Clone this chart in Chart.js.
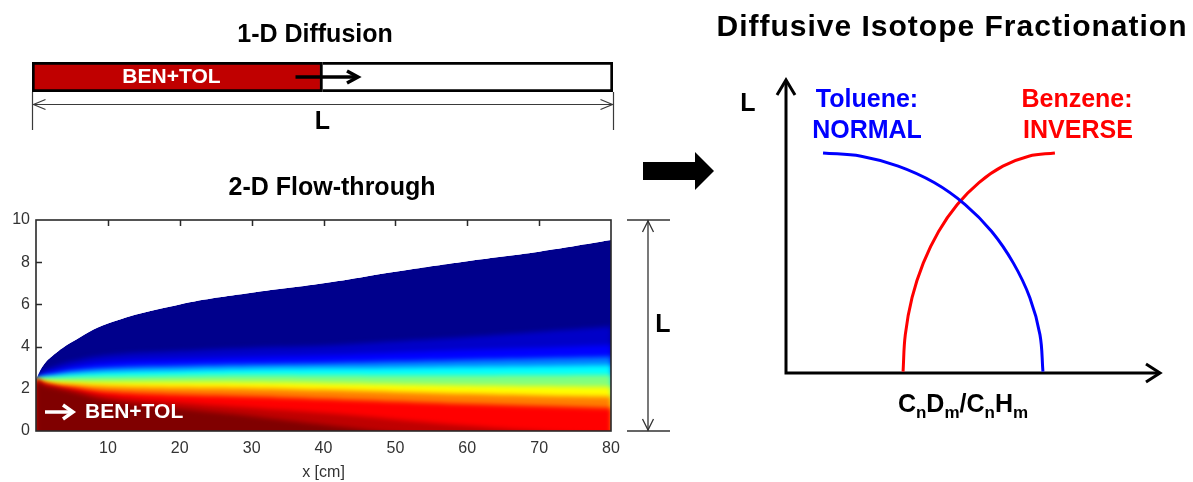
<!DOCTYPE html>
<html>
<head>
<meta charset="utf-8">
<title>Diffusive isotope fractionation</title>
<script src="https://cdn.jsdelivr.net/npm/chart.js@4.4.1/dist/chart.umd.min.js"></script>
<style>
  html, body { margin: 0; padding: 0; background: #fff; }
  body { width: 1193px; height: 482px; position: relative; overflow: hidden; }
  canvas { position: absolute; }
  #diffusion { left: 0; top: 0; }
  #flow { left: 0; top: 160px; }
  #fractionation { left: 620px; top: 0; }
</style>
</head>
<body>
<canvas id="diffusion" width="640" height="150"></canvas>
<canvas id="flow" width="700" height="322"></canvas>
<canvas id="fractionation" width="573" height="482"></canvas>
<script>
// ---- 1-D diffusion column (in % of L) ----
const columnLength = 100;
const frontPosition = 50;

// ---- 2-D flow-through: x [cm] and heights [cm] of the colour contours ----
const xCm = [0, 1, 2.5, 5, 10, 20, 30, 40, 50, 60, 70, 80];
const flowXTicks = [0, 10, 20, 30, 40, 50, 60, 70, 80];
const flowYTicks = [0, 2, 4, 6, 8, 10];

const plumeEdge      = [2.45, 3.1, 3.62, 4.22, 5.1, 6.0, 6.55, 7.0, 7.55, 8.05, 8.5, 9.05];
const contourMidBlue = [2.45, 2.85, 3.05, 3.3, 3.6, 3.8, 3.95, 4.05, 4.25, 4.45, 4.7, 4.95];
const contourBlue    = [2.45, 2.7, 2.85, 3.05, 3.28, 3.42, 3.52, 3.6, 3.72, 3.85, 3.95, 4.08];
const contourSky     = [2.45, 2.6, 2.7, 2.85, 3.0, 3.1, 3.17, 3.22, 3.3, 3.38, 3.45, 3.52];
const contourCyan    = [2.45, 2.55, 2.6, 2.7, 2.81, 2.88, 2.95, 2.98, 3.0, 3.04, 3.08, 3.13];
const contourGreen   = [2.45, 2.48, 2.52, 2.55, 2.58, 2.62, 2.65, 2.64, 2.63, 2.63, 2.64, 2.65];
const contourYellow  = [2.45, 2.4, 2.37, 2.35, 2.34, 2.33, 2.32, 2.28, 2.22, 2.17, 2.13, 2.1];
const contourOrange  = [2.45, 2.33, 2.25, 2.2, 2.12, 2.06, 2.03, 1.95, 1.85, 1.76, 1.68, 1.62];
const contourRed     = [2.45, 2.27, 2.15, 2.05, 1.86, 1.72, 1.64, 1.52, 1.4, 1.28, 1.18, 1.09];
const contourDeepRed = [2.45, 2.22, 2.1, 1.95, 1.65, 1.35, 1.1, 0.85, 0.55, 0.25, 0.0, -0.2];
const contourDarkRed = [2.45, 2.18, 2.05, 1.85, 1.45, 1.05, 0.7, 0.3, -0.1, -0.5, -0.8, -1.0];

// ---- schematic: fractionation vs L (arbitrary units 0-100) ----
const tolueneRatio = [9.9, 20.1, 30.0, 39.6, 47.9, 55.0, 60.8, 65.2, 67.9, 68.7];
const tolueneL     = [75.1, 74.0, 70.6, 65.0, 57.5, 48.3, 37.5, 25.7, 13.1, 0.5];
const benzeneRatio = [31.3, 31.9, 33.7, 36.7, 40.8, 45.8, 51.6, 58.0, 64.9, 71.9];
const benzeneL     = [0.5, 13.1, 25.7, 37.5, 48.3, 57.5, 65.0, 70.6, 74.0, 75.1];

const FONT = "'Liberation Sans', Arial, Helvetica, sans-serif";

// jet-like colours, outer plume to source
const layerLines = [plumeEdge, contourMidBlue, contourBlue, contourSky, contourCyan, contourGreen,
                    contourYellow, contourOrange, contourRed, contourDeepRed, contourDarkRed];
const layerColors = ['#00008c', '#0000c8', '#0000ff', '#0080ff', '#00ffff', '#80ff80',
                     '#ffff00', '#ff8000', '#ff0000', '#bf0000', '#800000'];

function drawLabel(ctx, str, x, y, font, color, align = 'center') {
    ctx.save();
    ctx.font = font;
    ctx.fillStyle = color;
    ctx.textAlign = align;
    ctx.textBaseline = 'middle';
    ctx.fillText(str, x, y);
    ctx.restore();
}

// open arrow head, dir is where the tip points
function arrowHead(ctx, tx, ty, dir, len, half) {
    const v = { right: [-1, 0], left: [1, 0], up: [0, 1], down: [0, -1] }[dir];
    ctx.beginPath();
    ctx.moveTo(tx + v[0] * len + v[1] * half, ty + v[1] * len + v[0] * half);
    ctx.lineTo(tx, ty);
    ctx.lineTo(tx + v[0] * len - v[1] * half, ty + v[1] * len - v[0] * half);
    ctx.stroke();
}

// 1-D Diffusion
const diffusionPlugin = {
    id: 'diffusionDecor',
    afterDatasetsDraw(chart) {
        const { ctx, chartArea: a, scales: { x } } = chart;
        const x0 = x.getPixelForValue(0);
        const xL = x.getPixelForValue(columnLength);
        const xf = x.getPixelForValue(frontPosition);
        const yMid = (a.top + a.bottom) / 2;

        drawLabel(ctx, 'BEN+TOL', x.getPixelForValue(frontPosition * 0.48), yMid, 'bold 21px ' + FONT, '#fff');

        // front arrow
        ctx.save();
        ctx.strokeStyle = '#000';
        ctx.lineWidth = 3.5;
        ctx.beginPath();
        ctx.moveTo(xf - 27, yMid);
        ctx.lineTo(xf + 35, yMid);
        ctx.stroke();
        arrowHead(ctx, xf + 35.5, yMid, 'right', 11, 6);
        ctx.restore();

        // dimension L
        ctx.save();
        ctx.strokeStyle = '#3a3a3a';
        ctx.lineWidth = 1.2;
        const yd = a.bottom + 12.5;
        ctx.beginPath();
        ctx.moveTo(x0 + 0.5, yd); ctx.lineTo(xL, yd);
        ctx.moveTo(x0 + 0.5, a.bottom); ctx.lineTo(x0 + 0.5, a.bottom + 38);
        ctx.moveTo(xL + 0.5, a.bottom); ctx.lineTo(xL + 0.5, a.bottom + 38);
        ctx.stroke();
        arrowHead(ctx, x0 + 1.5, yd, 'left', 12, 5);
        arrowHead(ctx, xL - 0.5, yd, 'right', 12, 5);
        ctx.restore();

        drawLabel(ctx, 'L', (x0 + xL) / 2, 122, 'bold 25px ' + FONT, '#000');
        drawLabel(ctx, '1-D Diffusion', 315, 35, 'bold 25px ' + FONT, '#000');
    }
};

new Chart(document.getElementById('diffusion'), {
    type: 'bar',
    data: {
        labels: ['column'],
        datasets: [{
            label: 'BEN+TOL',
            data: [frontPosition],
            backgroundColor: '#c00000',
            borderColor: '#000',
            borderWidth: 3,
            borderSkipped: false
        }, {
            label: 'clean',
            data: [columnLength - frontPosition],
            backgroundColor: '#fff',
            borderColor: '#000',
            borderWidth: 3,
            borderSkipped: 'start'
        }]
    },
    options: {
        indexAxis: 'y',
        responsive: false,
        animation: false,
        layout: { padding: { left: 32, right: 27, top: 62, bottom: 58 } },
        datasets: { bar: { barPercentage: 1, categoryPercentage: 1 } },
        scales: {
            x: { stacked: true, min: 0, max: columnLength, display: false },
            y: { stacked: true, display: false }
        },
        plugins: { legend: { display: false }, tooltip: { enabled: false } }
    },
    plugins: [diffusionPlugin]
});

// 2-D Flow-through
const flowPlugin = {
    id: 'flowDecor',
    beforeDatasetsDraw(chart) {
        chart.ctx.filter = 'none';
    },
    afterDatasetDraw(chart, args) {
        // layers after the sharp plume edge are softened, the white mask on top stays sharp
        const next = args.index + 1;
        chart.ctx.filter = next < layerLines.length ? 'blur(2.5px)' : 'none';
    },
    afterDatasetsDraw(chart) {
        const { ctx, chartArea: a, scales: { x, y } } = chart;
        ctx.filter = 'none';

        // inward ticks, only where the white background shows them
        ctx.save();
        ctx.strokeStyle = '#2a2a2a';
        ctx.lineWidth = 1.5;
        ctx.beginPath();
        flowXTicks.slice(1, -1).forEach(v => {
            const px = Math.round(x.getPixelForValue(v)) + 0.5;
            ctx.moveTo(px, a.top); ctx.lineTo(px, a.top + 6);
        });
        flowYTicks.slice(1, -1).filter(v => v > plumeEdge[0]).forEach(v => {
            const py = Math.round(y.getPixelForValue(v)) + 0.5;
            ctx.moveTo(a.left, py); ctx.lineTo(a.left + 6, py);
        });
        ctx.stroke();

        ctx.strokeStyle = '#2a2a2a';
        ctx.lineWidth = 1.6;
        ctx.strokeRect(a.left, a.top, a.right - a.left, a.bottom - a.top);
        ctx.restore();

        // inflow label
        const yIn = y.getPixelForValue(0.9);
        ctx.save();
        ctx.strokeStyle = '#fff';
        ctx.lineWidth = 3.5;
        ctx.beginPath();
        ctx.moveTo(a.left + 9, yIn); ctx.lineTo(a.left + 36, yIn);
        ctx.stroke();
        arrowHead(ctx, a.left + 37, yIn, 'right', 10, 7);
        ctx.restore();
        drawLabel(ctx, 'BEN+TOL', a.left + 49, yIn, 'bold 21px ' + FONT, '#fff', 'left');

        // dimension L on the right
        const yTop = y.getPixelForValue(10);
        const yBot = y.getPixelForValue(0);
        const xv = a.right + 37;
        ctx.save();
        ctx.strokeStyle = '#333';
        ctx.lineWidth = 1.3;
        ctx.beginPath();
        ctx.moveTo(a.right + 16, yTop); ctx.lineTo(a.right + 59, yTop);
        ctx.moveTo(a.right + 16, yBot); ctx.lineTo(a.right + 59, yBot);
        ctx.moveTo(xv, yTop); ctx.lineTo(xv, yBot);
        ctx.stroke();
        arrowHead(ctx, xv, yTop + 1, 'up', 11, 5.5);
        arrowHead(ctx, xv, yBot - 1, 'down', 11, 5.5);
        ctx.restore();
        drawLabel(ctx, 'L', a.right + 52, (yTop + yBot) / 2, 'bold 25px ' + FONT, '#000');

        drawLabel(ctx, '2-D Flow-through', 332, 28, 'bold 25px ' + FONT, '#000');
    }
};

const tickFont = { family: FONT, size: 16 };

const flowDatasets = layerLines.map((line, i) => ({
    label: 'contour ' + i,
    data: xCm.map((x, j) => ({ x, y: line[j] })),
    backgroundColor: layerColors[i],
    borderColor: 'transparent',
    borderWidth: 0,
    pointRadius: 0,
    fill: { value: -3 },
    tension: 0.4,
    order: layerLines.length - i + 1
}));
// white outside the plume, drawn last
flowDatasets.push({
    label: 'outside plume',
    data: xCm.map((x, j) => ({ x, y: plumeEdge[j] })),
    backgroundColor: '#fff',
    borderColor: 'transparent',
    borderWidth: 0,
    pointRadius: 0,
    fill: 'end',
    tension: 0.4,
    order: 0
});

new Chart(document.getElementById('flow'), {
    type: 'line',
    data: { datasets: flowDatasets },
    options: {
        responsive: false,
        animation: false,
        layout: { padding: { left: 0, right: 89, top: 60, bottom: 0 } },
        scales: {
            x: {
                type: 'linear',
                min: 0,
                max: 80,
                afterBuildTicks: s => { s.ticks = flowXTicks.map(v => ({ value: v })); },
                afterFit: s => { s.height = 51; },
                ticks: {
                    callback: v => (v === 0 ? '' : v),
                    font: tickFont,
                    color: '#333',
                    padding: 8,
                    maxRotation: 0,
                    autoSkip: false
                },
                grid: { display: false, drawTicks: false },
                border: { display: false },
                title: {
                    display: true,
                    text: 'x [cm]',
                    font: { family: FONT, size: 16, lineHeight: 1 },
                    color: '#333',
                    padding: { top: 0, bottom: 1 }
                }
            },
            y: {
                type: 'linear',
                min: 0,
                max: 10,
                afterBuildTicks: s => { s.ticks = flowYTicks.map(v => ({ value: v })); },
                afterFit: s => { s.width = 36; },
                ticks: { font: tickFont, color: '#333', padding: 6 },
                grid: { display: false, drawTicks: false },
                border: { display: false }
            }
        },
        plugins: { legend: { display: false }, tooltip: { enabled: false } }
    },
    plugins: [flowPlugin]
});

// Diffusive Isotope Fractionation
const fractionPlugin = {
    id: 'fractionDecor',
    beforeDatasetsDraw(chart) {
        const { ctx, scales: { x, y } } = chart;
        const ox = x.getPixelForValue(0);
        const oy = y.getPixelForValue(0);
        const xTip = x.getPixelForValue(100);
        const yTip = y.getPixelForValue(100);
        ctx.save();
        ctx.strokeStyle = '#000';
        ctx.lineWidth = 3;
        ctx.lineJoin = 'miter';
        ctx.beginPath();
        ctx.moveTo(ox, yTip + 1);
        ctx.lineTo(ox, oy);
        ctx.lineTo(xTip - 1, oy);
        ctx.stroke();
        arrowHead(ctx, ox, yTip, 'up', 15, 9);
        arrowHead(ctx, xTip, oy, 'right', 14, 9);

        // big arrow between the panels
        ctx.fillStyle = '#000';
        ctx.beginPath();
        ctx.moveTo(23, 162); ctx.lineTo(75, 162); ctx.lineTo(75, 152);
        ctx.lineTo(94, 171); ctx.lineTo(75, 190); ctx.lineTo(75, 180);
        ctx.lineTo(23, 180); ctx.closePath();
        ctx.fill();
        ctx.restore();
    },
    afterDatasetsDraw(chart) {
        const { ctx, scales: { x } } = chart;
        const bold = 'bold 25px ' + FONT;
        drawLabel(ctx, 'L', x.getPixelForValue(0) - 38, 104, bold, '#000');
        drawLabel(ctx, 'Toluene:', 247, 100, bold, '#0000ff');
        drawLabel(ctx, 'NORMAL', 247, 131, bold, '#0000ff');
        drawLabel(ctx, 'Benzene:', 457, 100, bold, '#ff0000');
        drawLabel(ctx, 'INVERSE', 458, 131, bold, '#ff0000');

        // x axis label with subscripts
        const parts = [['C', 0], ['n', 1], ['D', 0], ['m', 1], ['/', 0], ['C', 0], ['n', 1], ['H', 0], ['m', 1]];
        const mainFont = 'bold 25px ' + FONT;
        const subFont = 'bold 17px ' + FONT;
        ctx.save();
        ctx.textBaseline = 'alphabetic';
        ctx.fillStyle = '#000';
        let total = 0;
        parts.forEach(([t, s]) => { ctx.font = s ? subFont : mainFont; total += ctx.measureText(t).width; });
        let cx = (x.getPixelForValue(0) + x.getPixelForValue(100)) / 2 - 10 - total / 2;
        const base = 412;
        parts.forEach(([t, s]) => {
            ctx.font = s ? subFont : mainFont;
            ctx.fillText(t, cx, s ? base + 6 : base);
            cx += ctx.measureText(t).width;
        });
        ctx.restore();

        // title
        ctx.save();
        ctx.font = 'bold 30px ' + FONT;
        ctx.letterSpacing = '1px';
        ctx.fillStyle = '#000';
        ctx.textAlign = 'center';
        ctx.textBaseline = 'middle';
        ctx.fillText('Diffusive Isotope Fractionation', 332, 28);
        ctx.restore();
    }
};

new Chart(document.getElementById('fractionation'), {
    type: 'line',
    data: {
        datasets: [{
            label: 'Toluene: NORMAL',
            data: tolueneRatio.map((r, i) => ({ x: r, y: tolueneL[i] })),
            borderColor: '#0000ff',
            borderWidth: 3,
            pointRadius: 0,
            fill: false,
            tension: 0.4
        }, {
            label: 'Benzene: INVERSE',
            data: benzeneRatio.map((r, i) => ({ x: r, y: benzeneL[i] })),
            borderColor: '#ff0000',
            borderWidth: 3,
            pointRadius: 0,
            fill: false,
            tension: 0.4
        }]
    },
    options: {
        responsive: false,
        animation: false,
        layout: { padding: { left: 166, right: 33, top: 80, bottom: 109 } },
        scales: {
            x: { type: 'linear', min: 0, max: 100, display: false },
            y: { type: 'linear', min: 0, max: 100, display: false }
        },
        plugins: { legend: { display: false }, tooltip: { enabled: false } }
    },
    plugins: [fractionPlugin]
});
</script>
</body>
</html>
